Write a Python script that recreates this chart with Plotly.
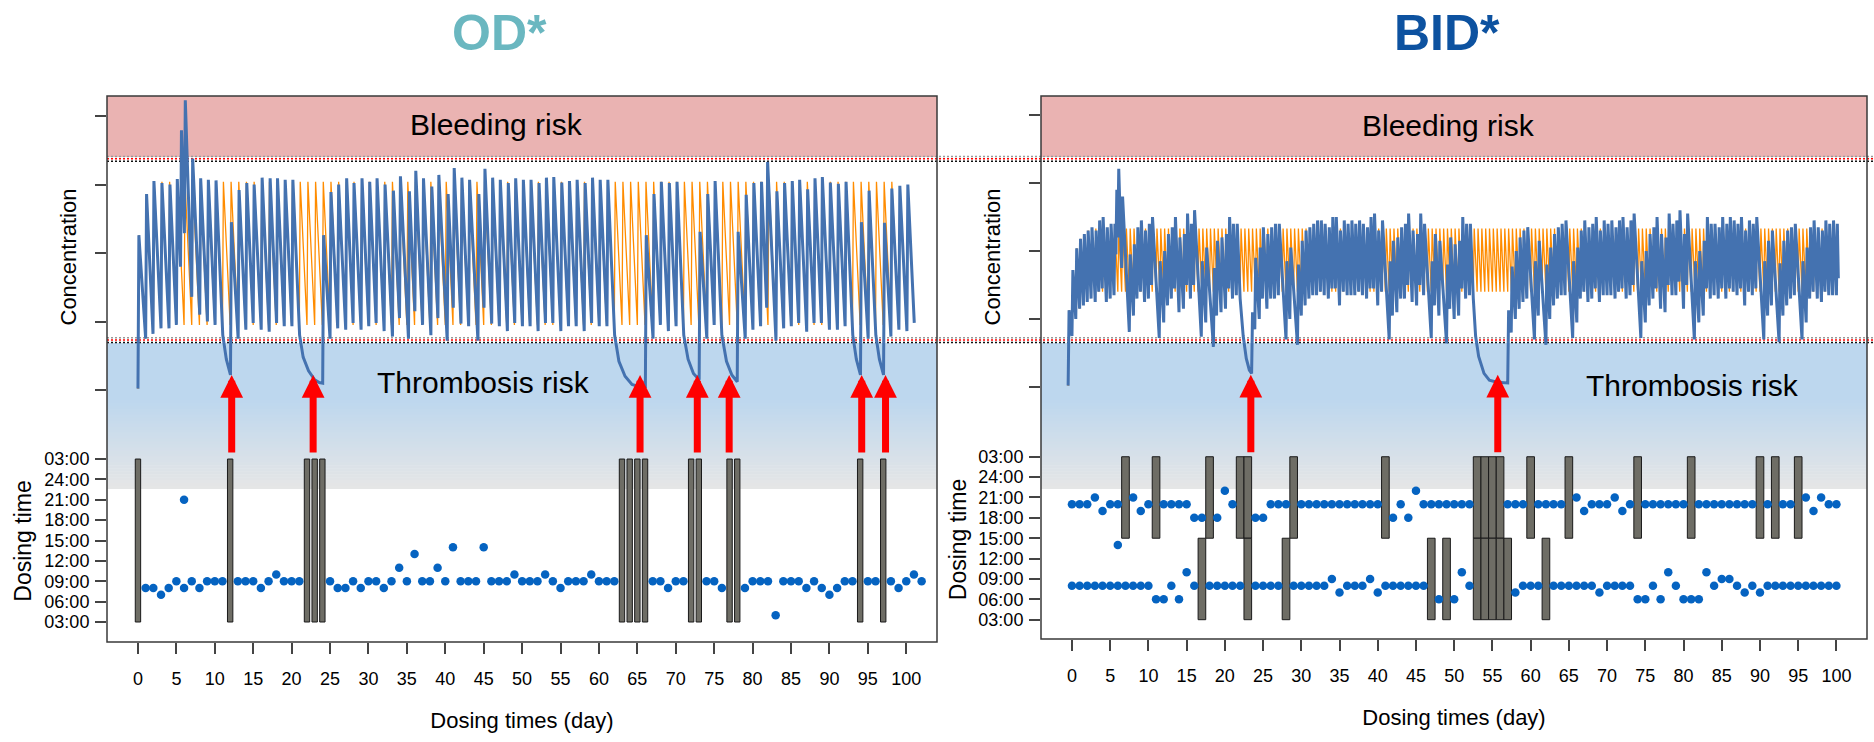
import plotly.graph_objects as go

W, H = 1874, 742

# ---------------- OD (once daily) panel ----------------
od_dose_day = [1, 2, 3, 4, 5, 6, 6, 7, 8, 9, 10, 11,
               13, 14, 15, 16, 17, 18, 19, 20, 21,
               25, 26, 27, 28, 29, 30, 31, 32, 33, 34, 35, 36, 37, 38, 39, 40, 41, 42, 43, 44, 45, 46, 47, 48, 49, 50,
               51, 52, 53, 54, 55, 56, 57, 58, 59, 60, 61, 62,
               67, 68, 69, 70, 71,
               74, 75, 76,
               79, 80, 81, 82, 83, 84, 85, 86, 87, 88, 89, 90, 91, 92, 93,
               95, 96,
               98, 99, 100, 101, 102]
od_dose_hour = [8, 8, 7, 8, 9, 8, 21, 9, 8, 9, 9, 9,
                9, 9, 9, 8, 9, 10, 9, 9, 9,
                9, 8, 8, 9, 8, 9, 9, 8, 9, 11, 9, 13, 9, 9, 11, 9, 14, 9, 9, 9, 14, 9, 9, 9, 10, 9,
                9, 9, 10, 9, 8, 9, 9, 9, 10, 9, 9, 9,
                9, 9, 8, 9, 9,
                9, 9, 8,
                8, 9, 9, 9, 4, 9, 9, 9, 8, 9, 8, 7, 8, 9, 9,
                9, 9,
                9, 8, 9, 10, 9]
od_pre = [0.02, 0.75, 0.82, 0.90, 0.90, 0.95, 1.80, 2.29, 1.36, 1.10, 1.00, 0.95,
          0.22, 0.75, 0.88, 0.98, 0.88, 0.85, 0.98, 0.93, 0.93,
          0.10, 0.75, 0.90, 0.88, 0.98, 0.88, 0.93, 0.98, 0.86, 0.78, 1.05, 0.75, 1.15, 0.95, 0.80, 1.05, 0.72,
          1.20, 0.97, 0.93, 0.72, 1.20, 0.97, 0.93, 0.86, 0.98,
          0.93, 0.93, 0.86, 0.98, 0.98, 0.86, 0.93, 0.93, 0.86, 0.98, 0.93, 0.93,
          0.05, 0.75, 0.95, 0.86, 0.93,
          0.15, 0.75, 0.95,
          0.12, 0.75, 0.88, 0.93, 1.20, 0.72, 0.90, 0.93, 0.98, 0.85, 0.98, 0.98, 0.88, 0.88, 0.93,
          0.22, 0.75,
          0.22, 0.78, 0.88, 0.86, 0.98]
od_peak = [2.26, 2.86, 3.05, 3.02, 3.00, 3.08, 3.79, 4.23, 3.38, 3.09, 3.07, 3.06,
           2.45, 2.92, 3.02, 3.00, 3.10, 3.09, 3.09, 3.07, 3.07,
           2.26, 2.89, 3.00, 3.09, 3.02, 3.09, 3.04, 3.09, 3.00, 2.91, 3.12, 2.90, 3.20, 3.09, 2.97, 3.14, 2.86,
           3.24, 3.10, 3.07, 2.86, 3.23, 3.10, 3.07, 3.02, 3.09,
           3.07, 3.07, 3.02, 3.10, 3.11, 3.03, 3.05, 3.07, 3.02, 3.10, 3.07, 3.07,
           2.26, 2.86, 3.04, 3.02, 3.04,
           2.31, 2.86, 3.05,
           2.31, 2.85, 3.02, 3.04, 3.33, 2.90, 3.02, 3.05, 3.07, 2.93, 3.09, 3.11, 3.03, 3.01, 3.04,
           2.45, 2.91,
           2.44, 2.94, 2.98, 3.00, None]
# decay of concentration during missed-dose gaps (time in days, concentration)
od_gap_t = [11.04, 11.5, 21.04, 21.5, 22.2, 23.0, 23.6, 62.04, 62.6, 63.4, 64.3, 65.2,
            71.04, 71.6, 72.3, 76.0, 76.6, 77.3, 93.04, 93.5, 96.04, 96.5]
od_gap_c = [0.80, 0.45, 0.80, 0.48, 0.28, 0.15, 0.11, 0.80, 0.42, 0.20, 0.08, 0.05,
            0.80, 0.45, 0.24, 0.80, 0.42, 0.22, 0.80, 0.45, 0.80, 0.45]
od_missed_day = [0, 12, 22, 23, 24, 63, 64, 65, 66, 72, 73, 77, 78, 94, 97]
od_ideal_day = list(range(1, 100))
od_ideal_hour = [8] * len(od_ideal_day)
od_ideal_pre_start = [0.02, 0.75, 0.90]
od_ideal_peak_start = [2.26, 2.86, 3.00]
od_ideal_pre_ss = 0.95
od_ideal_peak_ss = 3.04
od_arrow_day = [12.2, 22.8, 65.35, 72.8, 76.95, 94.2, 97.3]
od_spike_arrow_day = [6.35]

# ---------------- BID (twice daily) panel ----------------
bid_dose_day = [0, 0, 1, 1, 2, 2, 3, 3, 4, 4, 5, 5, 6, 6, 6, 7, 8, 8, 9, 9, 10, 10, 11, 12, 12,
                13, 13, 14, 14, 15, 15, 16, 16, 17, 18, 19, 19, 20, 20, 21, 21, 22, 24, 24, 25, 25,
                26, 26, 27, 27, 28, 29, 30, 30, 31, 31, 32, 32, 33, 33, 34, 34, 35, 35, 36, 36,
                37, 37, 38, 38, 39, 39, 40, 40, 41, 42, 42, 43, 43, 44, 44, 45, 45, 46, 46, 47,
                48, 48, 49, 50, 50, 51, 51, 52, 52, 57, 58, 58, 59, 59, 60, 61, 61, 62, 63, 63,
                64, 64, 65, 66, 66, 67, 67, 68, 68, 69, 69, 70, 70, 71, 71, 72, 72, 73, 73, 74,
                75, 75, 76, 76, 77, 77, 78, 78, 79, 79, 80, 80, 81, 82, 82, 83, 83, 84, 84, 85,
                85, 86, 86, 87, 87, 88, 88, 89, 89, 90, 91, 91, 92, 93, 93, 94, 94, 95, 96, 96,
                97, 97, 98, 98, 99, 99, 100, 100]
bid_dose_hour = [8, 20, 8, 20, 8, 20, 8, 21, 8, 19, 8, 20, 8, 14, 20, 8, 8, 21, 8, 19, 8, 20, 6, 6, 20,
                 8, 20, 6, 20, 10, 20, 8, 18, 18, 8, 8, 18, 8, 22, 8, 20, 8, 8, 18, 8, 18,
                 8, 20, 8, 20, 20, 8, 8, 20, 8, 20, 8, 20, 8, 20, 9, 20, 7, 20, 8, 20,
                 8, 20, 8, 20, 9, 20, 7, 20, 8, 8, 18, 8, 20, 8, 18, 8, 22, 8, 20, 20,
                 6, 20, 20, 6, 20, 10, 20, 8, 20, 20, 7, 20, 8, 20, 8, 8, 20, 20, 8, 20,
                 8, 20, 8, 8, 21, 8, 19, 8, 20, 7, 20, 8, 20, 8, 21, 8, 19, 8, 20, 6,
                 6, 20, 8, 20, 6, 20, 10, 20, 8, 20, 6, 20, 6, 6, 20, 10, 20, 8, 20, 9,
                 20, 9, 20, 8, 20, 7, 20, 8, 20, 7, 8, 20, 8, 8, 20, 8, 20, 8, 8, 21,
                 8, 19, 8, 21, 8, 20, 8, 20]
bid_pre = [0.02, 0.75, 1.00, 1.15, 1.20, 1.25, 1.30, 1.25, 1.40, 1.45, 1.25, 1.30, 1.35, 1.95, 2.20, 1.75,
           0.81, 1.05, 1.30, 1.40, 1.25, 1.30, 1.50, 0.72, 0.95,
           1.20, 1.30, 1.45, 1.10, 1.15, 1.50, 1.30, 1.50, 0.74, 0.95, 0.59, 1.05, 1.10, 1.15, 1.45, 1.30,
           1.35, 0.20, 0.85, 1.00, 1.30,
           1.15, 1.30, 1.30, 1.35, 0.70, 1.00, 0.62, 1.05, 1.20, 1.30, 1.35, 1.35, 1.40, 1.35, 1.30, 1.45,
           1.45, 1.20, 1.40, 1.35,
           1.35, 1.35, 1.40, 1.35, 1.30, 1.45, 1.45, 1.20, 1.40, 0.70, 1.05, 1.10, 1.30, 1.30, 1.50, 1.25,
           1.20, 1.50, 1.35, 0.72,
           1.20, 1.05, 0.64, 1.15, 1.00, 1.05, 1.45, 1.30, 1.35, 0.06, 0.80, 1.00, 1.15, 1.25, 1.30, 0.70,
           1.05, 0.62, 1.00, 1.20,
           1.30, 1.35, 1.35, 0.72, 0.95, 1.30, 1.40, 1.25, 1.30, 1.45, 1.25, 1.35, 1.35, 1.35, 1.30, 1.40,
           1.45, 1.30, 1.35, 1.50,
           0.72, 0.95, 1.20, 1.30, 1.45, 1.15, 1.10, 1.50, 1.35, 1.35, 1.55, 1.15, 1.50, 0.70, 0.95, 1.05,
           1.45, 1.30, 1.35, 1.30,
           1.45, 1.30, 1.45, 1.40, 1.35, 1.45, 1.20, 1.40, 1.35, 1.45, 0.70, 1.05, 1.20, 0.66, 1.05, 1.20,
           1.30, 1.35, 0.70, 0.95,
           1.30, 1.40, 1.30, 1.25, 1.40, 1.35, 1.35, 1.35]
bid_peak = [1.13, 1.72, 2.04, 2.18, 2.25, 2.30, 2.35, 2.30, 2.45, 2.50, 2.35, 2.40, 2.40, 2.90, 3.21, 2.80,
            1.95, 2.10, 2.35, 2.45, 2.30, 2.40, 2.50, 1.85, 2.00,
            2.25, 2.35, 2.50, 2.20, 2.25, 2.55, 2.40, 2.60, 1.85, 2.05, 1.75, 2.15, 2.20, 2.25, 2.50, 2.40,
            2.40, 1.10, 1.90, 2.05, 2.35,
            2.25, 2.35, 2.40, 2.40, 1.85, 2.05, 1.80, 2.15, 2.30, 2.35, 2.40, 2.45, 2.45, 2.40, 2.35, 2.50,
            2.50, 2.30, 2.45, 2.40,
            2.45, 2.40, 2.45, 2.40, 2.35, 2.50, 2.55, 2.30, 2.45, 1.85, 2.15, 2.20, 2.35, 2.40, 2.55, 2.30,
            2.25, 2.55, 2.40, 1.85,
            2.25, 2.15, 1.80, 2.20, 2.10, 2.15, 2.50, 2.40, 2.40, 1.13, 1.77, 2.00, 2.20, 2.30, 2.35, 1.85,
            2.15, 1.80, 2.05, 2.25,
            2.35, 2.40, 2.45, 1.85, 2.05, 2.30, 2.45, 2.35, 2.40, 2.50, 2.30, 2.45, 2.40, 2.45, 2.35, 2.45,
            2.50, 2.35, 2.45, 2.55,
            1.85, 2.00, 2.25, 2.35, 2.50, 2.25, 2.20, 2.55, 2.40, 2.45, 2.60, 2.25, 2.55, 1.85, 2.00, 2.15,
            2.50, 2.40, 2.40, 2.35,
            2.50, 2.40, 2.50, 2.45, 2.40, 2.50, 2.30, 2.45, 2.40, 2.50, 1.85, 2.15, 2.30, 1.82, 2.15, 2.30,
            2.35, 2.40, 1.85, 2.05,
            2.35, 2.45, 2.35, 2.30, 2.45, 2.40, 2.45, 2.40]
bid_gap_t = [22.0, 22.4, 22.8, 23.2, 52.5, 52.8, 53.2, 53.9, 54.6, 55.6]
bid_gap_c = [1.30, 0.75, 0.42, 0.25, 1.30, 0.75, 0.45, 0.20, 0.10, 0.07]
bid_end = (100.25, 1.60)
bid_missed_pm_day = [7, 11, 18, 22, 23, 29, 41, 53, 54, 55, 56, 60, 65, 74, 81, 90, 92, 95]
bid_missed_am_day = [17, 23, 28, 47, 49, 53, 54, 55, 56, 57, 62]
bid_ideal_day = [d for d in range(0, 100) for _ in (0, 1)]
bid_ideal_hour = [h for _ in range(0, 100) for h in (8, 20)]
bid_ideal_pre_start = [0.02, 0.75, 1.00, 1.15, 1.25, 1.32]
bid_ideal_peak_start = [1.13, 1.72, 2.04, 2.18, 2.25, 2.30]
bid_ideal_pre_ss = 1.40
bid_ideal_peak_ss = 2.33
bid_arrow_day = [23.4, 55.7]

# dosing-time axis
hour_ticks = [3, 6, 9, 12, 15, 18, 21, 24, 27]
hour_labels = ["03:00", "06:00", "09:00", "12:00", "15:00", "18:00", "21:00", "24:00", "03:00"]
day_ticks = list(range(0, 101, 5))
conc_ticks = [0, 1, 2, 3, 4]

# ---------------- helpers ----------------
def pxx(x):
    return x / W


def pxy(y):
    return 1 - y / H


RISE = 0.12


def build_curve(days, hours, pre, peak, offset, gap_t, gap_c, end=None):
    pts = []
    for d, h, a, b in zip(days, hours, pre, peak):
        t = d + offset + (h - 8) / 24
        pts.append((t, a))
        if b is not None:
            pts.append((t + RISE, b))
    pts += list(zip(gap_t, gap_c))
    if end is not None:
        pts.append(end)
    pts.sort()
    return [p[0] for p in pts], [p[1] for p in pts]


def build_ideal(days, hours, pre_start, pre_ss, peak_start, peak_ss, offset, interval):
    xs, ys = [], []
    for i, (d, h) in enumerate(zip(days, hours)):
        t = d + offset + (h - 8) / 24
        xs += [t, t + RISE]
        ys += [pre_start[i] if i < len(pre_start) else pre_ss,
               peak_start[i] if i < len(peak_start) else peak_ss]
    xs.append(xs[-2] + interval)
    ys.append(pre_ss)
    return xs, ys


BLUE = "#4472B0"
ORANGE = "#FF8C00"
DOT = "#0563C1"
BAR = "#6E6D65"
RED = "#FF0000"
FONT = "Liberation Sans, Arial, sans-serif"

fig = go.Figure()

# ---- OD curves ----
ox, oy = build_ideal(od_ideal_day, od_ideal_hour, od_ideal_pre_start, od_ideal_pre_ss,
                     od_ideal_peak_start, od_ideal_peak_ss, -1, 1.0)
fig.add_trace(go.Scatter(x=ox, y=oy, mode="lines", line=dict(color=ORANGE, width=1.3),
                         xaxis="x", yaxis="y", showlegend=False, hoverinfo="skip"))
bx, by = build_curve(od_dose_day, od_dose_hour, od_pre, od_peak, -1, od_gap_t, od_gap_c)
fig.add_trace(go.Scatter(x=bx, y=by, mode="lines", line=dict(color=BLUE, width=3),
                         xaxis="x", yaxis="y", showlegend=False))

# ---- OD dosing ----
fig.add_trace(go.Bar(x=od_missed_day, y=[24] * len(od_missed_day), base=3, width=0.7,
                     marker=dict(color=BAR, line=dict(color="#1a1a1a", width=1)),
                     xaxis="x", yaxis="y2", showlegend=False))
fig.add_trace(go.Scatter(x=od_dose_day, y=od_dose_hour, mode="markers",
                         marker=dict(color=DOT, size=8.5), xaxis="x", yaxis="y2", showlegend=False))

# ---- BID curves ----
ox2, oy2 = build_ideal(bid_ideal_day, bid_ideal_hour, bid_ideal_pre_start, bid_ideal_pre_ss,
                       bid_ideal_peak_start, bid_ideal_peak_ss, -0.5, 0.5)
fig.add_trace(go.Scatter(x=ox2, y=oy2, mode="lines", line=dict(color=ORANGE, width=1.3),
                         xaxis="x2", yaxis="y3", showlegend=False, hoverinfo="skip"))
bx2, by2 = build_curve(bid_dose_day, bid_dose_hour, bid_pre, bid_peak, -0.5, bid_gap_t, bid_gap_c, bid_end)
fig.add_trace(go.Scatter(x=bx2, y=by2, mode="lines", line=dict(color=BLUE, width=3),
                         xaxis="x2", yaxis="y3", showlegend=False))

# ---- BID dosing ----
fig.add_trace(go.Bar(x=bid_missed_pm_day, y=[12] * len(bid_missed_pm_day), base=15, width=1.0,
                     marker=dict(color=BAR, line=dict(color="#1a1a1a", width=1)),
                     xaxis="x2", yaxis="y4", showlegend=False))
fig.add_trace(go.Bar(x=bid_missed_am_day, y=[12] * len(bid_missed_am_day), base=3, width=1.0,
                     marker=dict(color=BAR, line=dict(color="#1a1a1a", width=1)),
                     xaxis="x2", yaxis="y4", showlegend=False))
fig.add_trace(go.Scatter(x=bid_dose_day, y=bid_dose_hour, mode="markers",
                         marker=dict(color=DOT, size=8.5), xaxis="x2", yaxis="y4", showlegend=False))

# ---------------- background shapes ----------------
shapes = []
panels = [(107, 937, 642), (1041, 1867, 639)]
for x0, x1, yb in panels:
    # bleeding band
    shapes.append(dict(type="rect", xref="paper", yref="paper", x0=pxx(x0), x1=pxx(x1),
                       y0=pxy(157), y1=pxy(96), fillcolor="#EAB3B2", line=dict(width=0), layer="below"))
    # thrombosis band (blue fading to grey)
    shapes.append(dict(type="rect", xref="paper", yref="paper", x0=pxx(x0), x1=pxx(x1),
                       y0=pxy(402), y1=pxy(343), fillcolor="rgb(189,215,238)", line=dict(width=0),
                       layer="below"))
    n = 30
    c0, c1 = (189, 215, 238), (230, 230, 230)
    for k in range(n):
        ya = 400 + k * 89 / n
        yb2 = ya + 89 / n + 0.6
        t = (k + 0.5) / n
        col = "rgb(%d,%d,%d)" % tuple(round(c0[j] + (c1[j] - c0[j]) * t) for j in range(3))
        shapes.append(dict(type="rect", xref="paper", yref="paper", x0=pxx(x0), x1=pxx(x1),
                           y0=pxy(min(yb2, 489)), y1=pxy(ya), fillcolor=col, line=dict(width=0),
                           layer="below"))
    # frame
    shapes.append(dict(type="rect", xref="paper", yref="paper", x0=pxx(x0), x1=pxx(x1),
                       y0=pxy(yb), y1=pxy(96), line=dict(color="#3a3a3a", width=1.5), layer="above"))

# threshold lines (span both panels)
for yy, col in [(156.5, "#9a9a9a"), (158.8, RED), (161.3, "#111111"),
                (337.7, "#9a9a9a"), (340.0, RED), (342.5, "#111111")]:
    shapes.append(dict(type="line", xref="paper", yref="paper", x0=pxx(107), x1=1.0,
                       y0=pxy(yy), y1=pxy(yy), line=dict(color=col, width=1.6, dash="2px,2px"),
                       layer="below"))

# ---------------- annotations ----------------
ann = []
ann.append(dict(text="<b>OD*</b>", x=pxx(500), y=pxy(33), xref="paper", yref="paper",
                showarrow=False, font=dict(size=50, color="#6AB7C0", family=FONT),
                xanchor="center", yanchor="middle"))
ann.append(dict(text="<b>BID*</b>", x=pxx(1447), y=pxy(33), xref="paper", yref="paper",
                showarrow=False, font=dict(size=50, color="#0D52A0", family=FONT),
                xanchor="center", yanchor="middle"))
for cx, cy, txt in [(496, 124, "Bleeding risk"), (1448, 125, "Bleeding risk"),
                    (483, 383, "Thrombosis risk"), (1692, 385, "Thrombosis risk")]:
    ann.append(dict(text=txt, x=pxx(cx), y=pxy(cy), xref="paper", yref="paper", showarrow=False,
                    font=dict(size=30, color="black", family=FONT), xanchor="center", yanchor="middle"))

arrow_style = dict(showarrow=True, arrowhead=2, arrowsize=0.65, arrowwidth=7, arrowcolor=RED, text="")
for d in od_arrow_day:
    ann.append(dict(x=d, y=0.22, xref="x", yref="y", ax=0, ay=79, **arrow_style))
for d in bid_arrow_day:
    ann.append(dict(x=d, y=0.18, xref="x2", yref="y3", ax=0, ay=79, **arrow_style))
for d in od_spike_arrow_day:
    ann.append(dict(x=d, y=4.31, xref="x", yref="y", ax=0, ay=-75, **arrow_style))

# ---------------- axes ----------------
tickcommon = dict(ticks="outside", ticklen=11, tickwidth=1.5, tickcolor="#444", showgrid=False,
                  zeroline=False, showline=False)
xcommon = dict(tickvals=day_ticks, tickfont=dict(size=18, color="black"), ticklabelstandoff=9,
               title=dict(text="Dosing times (day)", font=dict(size=22, color="black"), standoff=25),
               **tickcommon)
fig.update_layout(
    width=W, height=H, margin=dict(l=0, r=0, t=0, b=0),
    paper_bgcolor="white", plot_bgcolor="rgba(0,0,0,0)",
    font=dict(family=FONT, color="black"),
    template="none", barmode="overlay", showlegend=False,
    shapes=shapes, annotations=ann,
    xaxis=dict(domain=[pxx(107), pxx(937)], range=[-4.03, 104.0], anchor="y2", **xcommon),
    xaxis2=dict(domain=[pxx(1041), pxx(1867)], range=[-4.05, 104.0], anchor="y4", **xcommon),
    yaxis=dict(domain=[pxy(418), pxy(96)], range=[(390 - 418) / 68.5, (390 - 96) / 68.5], anchor="x",
               tickvals=conc_ticks, showticklabels=False,
               title=dict(text="Concentration", font=dict(size=22), standoff=12), **tickcommon),
    yaxis2=dict(domain=[pxy(642), pxy(440)], range=[3 - 20 / 6.79, 3 + 182 / 6.79], anchor="x",
                tickvals=hour_ticks, ticktext=hour_labels, tickfont=dict(size=18), ticklabelstandoff=2,
                title=dict(text="Dosing time", font=dict(size=23), standoff=6), **tickcommon),
    yaxis3=dict(domain=[pxy(418), pxy(96)], range=[(387 - 418) / 68, (387 - 96) / 68], anchor="x2",
                tickvals=conc_ticks, showticklabels=False,
                title=dict(text="Concentration", font=dict(size=22), standoff=22), **tickcommon),
    yaxis4=dict(domain=[pxy(639), pxy(440)], range=[3 - 19.3 / 6.79, 3 + 179.7 / 6.79], anchor="x2",
                tickvals=hour_ticks, ticktext=hour_labels, tickfont=dict(size=18), ticklabelstandoff=2,
                title=dict(text="Dosing time", font=dict(size=23), standoff=5), **tickcommon),
)

fig.write_html("out.html")
